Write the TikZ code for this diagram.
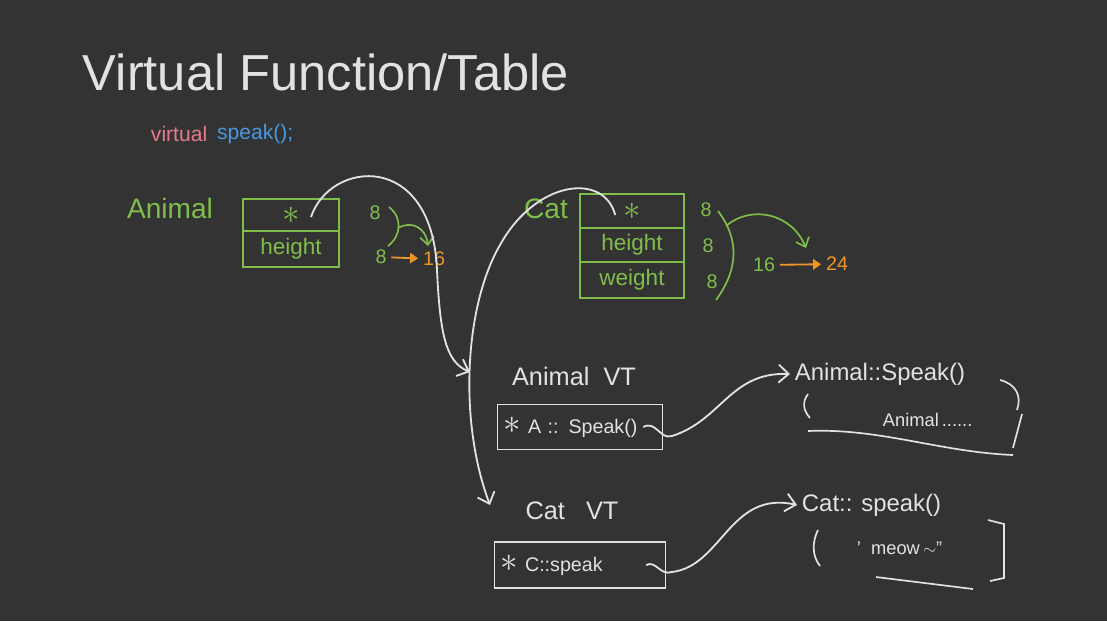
\documentclass[tikz,border=0pt]{standalone}
\usepackage{fontspec}
\setmainfont{Liberation Sans}
\usetikzlibrary{arrows.meta,calc}
\definecolor{board}{RGB}{51,51,51}
\definecolor{chalk}{RGB}{226,226,226}
\definecolor{green}{RGB}{128,190,76}
\definecolor{orange}{RGB}{240,150,40}
\definecolor{pink}{RGB}{232,122,140}
\definecolor{blue}{RGB}{72,152,226}
\newcommand{\vstar}{{\fontsize{24}{24}\selectfont$\ast$}}

\begin{document}
\begin{tikzpicture}[x=0.025cm, y=-0.025cm,
  cell/.style={draw=green, text=green, line width=1.3pt, minimum width=2.4cm, inner sep=0pt, font=\fontsize{16}{18}\selectfont},
  vtbox/.style={draw=chalk, text=chalk, line width=1.2pt, align=left, inner xsep=0.16cm, font=\fontsize{14}{16}\selectfont},
  num/.style={green, font=\fontsize{14}{16}\selectfont},
  ptr/.style={chalk, line width=1.3pt, -{Straight Barb[length=2.5mm,width=4.5mm]}},
  size/.style={green, line width=1.2pt, -{Straight Barb[length=2mm,width=3.5mm]}},
  sum/.style={orange, line width=1.3pt, -{Triangle[length=2mm,width=2.6mm]}},
  ink/.style={chalk, line width=1.2pt}]
\fill[board] (0,0) rectangle (1107,621);
\useasboundingbox (0,0) rectangle (1107,621);

% title
\node[anchor=west, chalk, font=\fontsize{36}{40}\selectfont] (title) at (78,72) {Virtual Function/Table};
\node[anchor=west, pink, font=\fontsize{15}{17}\selectfont] (kw) at (146,134) {virtual};
\node[anchor=west, blue, font=\fontsize{15}{17}\selectfont] (fn) at (kw.east) {speak();};

% Animal object
\node[green, font=\fontsize{20}{22}\selectfont] (animal) at (170,208) {Animal};
\node[cell, minimum height=0.78cm] (a1) at (291,215) {\vstar};
\node[cell, minimum height=0.9cm] (a2) at (291,249) {height};
\node[num] (a8a) at (375,213) {8};
\node[num] (a8b) at (381,257) {8};
\node[orange, font=\fontsize{14}{16}\selectfont] (a16) at (434,259) {16};
\draw[green, line width=1.2pt] (389,207) .. controls (403,218) and (401,236) .. (388,246);
\coordinate (abr) at (398,228);
\draw[size] (abr) .. controls (412,220) and (426,228) .. (428,246);
\draw[sum] (a8b) -- (a16);

% Cat object
\node[green, font=\fontsize{20}{22}\selectfont] (cat) at (546,209) {Cat};
\node[cell, minimum width=2.6cm, minimum height=0.83cm] (c1) at (632,211) {\vstar};
\node[cell, minimum width=2.6cm, minimum height=0.85cm] (c2) at (632,245) {height};
\node[cell, minimum width=2.6cm, minimum height=0.9cm] (c3) at (632,280) {weight};
\node[num] (c8a) at (706,210) {8};
\node[num] (c8b) at (708,246) {8};
\node[num] (c8c) at (712,282) {8};
\node[num] (c16) at (764,265) {16};
\node[orange, font=\fontsize{14}{16}\selectfont] (c24) at (837,264) {24};
\draw[green, line width=1.2pt] (718,211) .. controls (740,240) and (738,270) .. (716,300);
\coordinate (cbr) at (726,226);
\draw[size] (cbr) .. controls (752,204) and (792,214) .. (806,248);
\draw[sum] (c16) -- (c24);

% vtables
\node[chalk, font=\fontsize{18}{20}\selectfont] (avt) at (574,376) {Animal\ \ VT};
\node[vtbox, text width=3.8cm, minimum height=1.12cm] (avtbox) at (580,427) {\vstar\ A :: Speak()};
\node[chalk, font=\fontsize{18}{20}\selectfont] (cvt) at (572,511) {Cat\ \ \ VT};
\node[vtbox, text width=3.95cm, minimum height=1.15cm] (cvtbox) at (580,565) {\vstar\ C::speak};

% vptr arrows
\coordinate (aend) at (470,372);
\coordinate (cend) at (490,505);
\draw[ptr] ([xshift=0.5cm, yshift=-0.05cm]a1.center) .. controls (330,160) and (432,150) .. (437,270)
  .. controls (440,335) and (446,362) .. (aend);
\draw[ptr] ([xshift=-0.42cm, yshift=-0.1cm]c1.center) .. controls (604,172) and (536,180) .. (500,245)
  .. controls (465,305) and (458,420) .. (cend);

% functions
\node[anchor=west, chalk, font=\fontsize{17}{19}\selectfont] (aspk) at (790,374) {Animal::Speak()};
\node[anchor=west, chalk, font=\fontsize{13}{15}\selectfont] (abody) at (878,420) {Animal\,......};
\draw[ink] (808,394) .. controls (802,402) and (803,410) .. (810,418);
\draw[ink] (1000,380) .. controls (1016,384) and (1022,396) .. (1017,410);
\draw[ink] (1022,414) -- (1013,448);
\draw[ink] (808,431) .. controls (880,428) and (940,452) .. (1013,455);

\node[anchor=west, chalk, font=\fontsize{17}{19}\selectfont] (cspk) at (797,505) {Cat:: speak()};
\node[anchor=west, chalk, font=\fontsize{13}{15}\selectfont] (cbody) at (852,548) {' \ meow\,$\sim$''};
\draw[ink] (818,530) .. controls (812,542) and (812,556) .. (820,566);
\draw[ink] (988,520) -- (1004,524) -- (1004,578) -- (990,581);
\draw[ink] (876,577) -- (973,589);

% entries
\draw[ptr] ([xshift=-0.5cm]avtbox.east) .. controls (656,420) and (660,440) .. (672,436)
  .. controls (722,420) and (730,372) .. (aspk.west);
\draw[ptr] ([xshift=-0.5cm]cvtbox.east) .. controls (656,560) and (660,576) .. (672,572)
  .. controls (722,566) and (730,490) .. (cspk.west);
\end{tikzpicture}
\end{document}
